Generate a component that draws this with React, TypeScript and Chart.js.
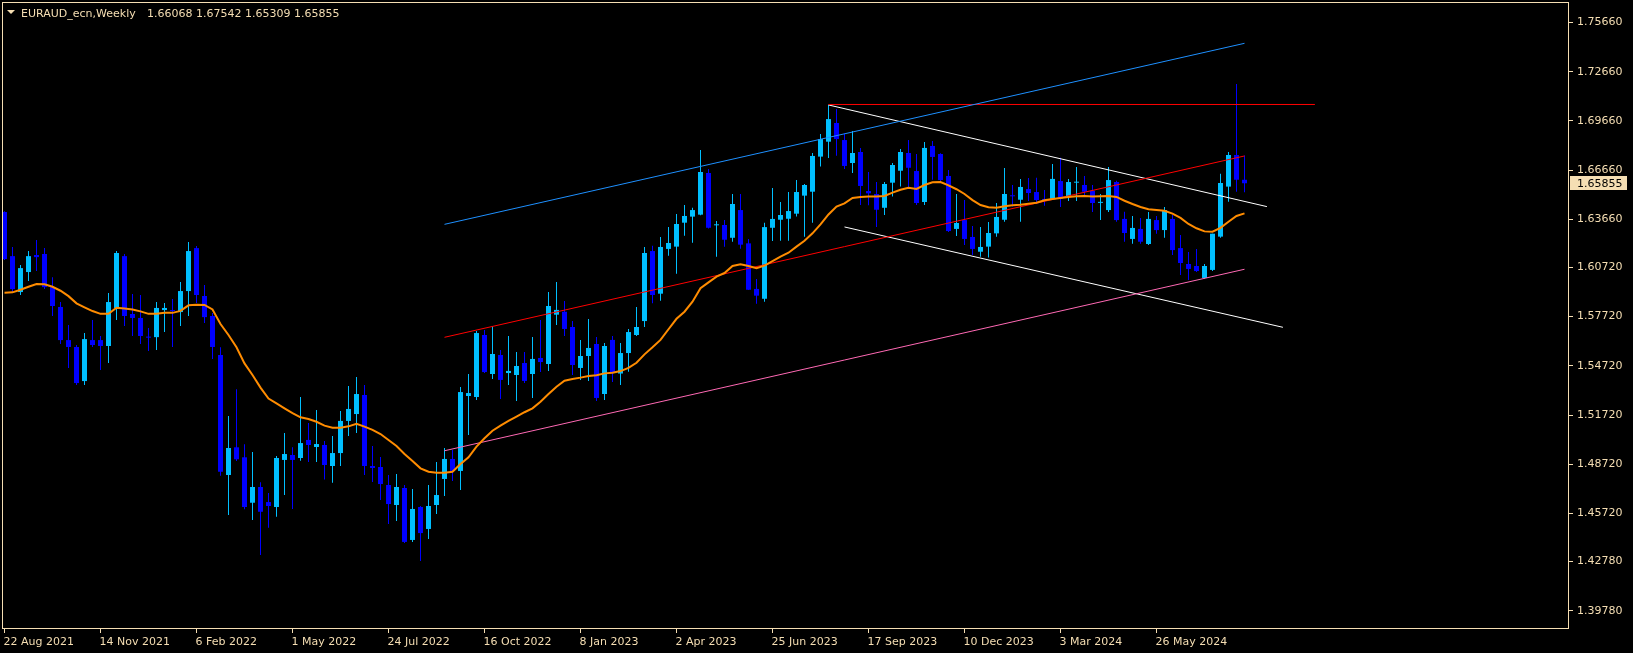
import React, { useEffect, useRef } from 'react';
import { Chart, registerables } from 'chart.js';

Chart.register(...registerables);

// ---------- text ----------
const symbolTitle = 'EURAUD_ecn,Weekly';
const lastBarText = '1.66068 1.67542 1.65309 1.65855';
const lastPrice = 1.65855;

// ---------- axis ticks ----------
const dateLabels = ['22 Aug 2021', '14 Nov 2021', '6 Feb 2022', '1 May 2022', '24 Jul 2022', '16 Oct 2022', '8 Jan 2023', '2 Apr 2023', '25 Jun 2023', '17 Sep 2023', '10 Dec 2023', '3 Mar 2024', '26 May 2024'];
const dateTickBars = [0, 12, 24, 36, 48, 60, 72, 84, 96, 108, 120, 132, 144];
const priceTicks = [1.7566, 1.7266, 1.6966, 1.6666, 1.6366, 1.6072, 1.5772, 1.5472, 1.5172, 1.4872, 1.4572, 1.4278, 1.3978];

// ---------- weekly candles (bar 0 = 22 Aug 2021) ----------
const opens = [
  1.6410, 1.6141, 1.5922, 1.6044, 1.6148, 1.6154, 1.5952, 1.5831, 1.5629, 1.5587,
  1.5379, 1.5629, 1.5629, 1.5593, 1.5825, 1.6141, 1.5788, 1.5764, 1.5647, 1.5647,
  1.5812, 1.5812, 1.5800, 1.5928, 1.6190, 1.5898, 1.5776, 1.5538, 1.4806, 1.4975,
  1.4914, 1.4637, 1.4733, 1.4641, 1.4611, 1.4898, 1.4928, 1.4910, 1.5020, 1.4977,
  1.4989, 1.4861, 1.4940, 1.5136, 1.5178, 1.5294, 1.4861, 1.4855, 1.4745, 1.4623,
  1.4727, 1.4410, 1.4611, 1.4477, 1.4623, 1.4782, 1.4904, 1.4831, 1.5288, 1.5282,
  1.5660, 1.5422, 1.5538, 1.5428, 1.5416, 1.5489, 1.5422, 1.5520, 1.5483, 1.5784,
  1.5802, 1.5709, 1.5459, 1.5532, 1.5605, 1.5300, 1.5630, 1.5425, 1.5550, 1.5660,
  1.5745, 1.6172, 1.5912, 1.6185, 1.6199, 1.6345, 1.6382, 1.6394, 1.6648, 1.6329,
  1.6331, 1.6253, 1.6422, 1.6219, 1.5941, 1.5881, 1.6314, 1.6363, 1.6369, 1.6400,
  1.6510, 1.6534, 1.6748, 1.6839, 1.6953, 1.6849, 1.6709, 1.6776, 1.6538, 1.6520,
  1.6436, 1.6589, 1.6662, 1.6770, 1.6660, 1.6471, 1.6813, 1.6764, 1.6630, 1.6307,
  1.6361, 1.6258, 1.6168, 1.6199, 1.6280, 1.6363, 1.6510, 1.6485, 1.6550, 1.6532,
  1.6490, 1.6490, 1.6599, 1.6503, 1.6589, 1.6575, 1.6540, 1.6466, 1.6422, 1.6593,
  1.6368, 1.6246, 1.6307, 1.6215, 1.6361, 1.6300, 1.6368, 1.6190, 1.6093, 1.6081,
  1.6008, 1.6057, 1.6260, 1.6565, 1.6758, 1.66068,
];
const highs = [
  1.6415, 1.6196, 1.6087, 1.6172, 1.6239, 1.6190, 1.6013, 1.5861, 1.5721, 1.5599,
  1.5672, 1.5751, 1.5654, 1.5916, 1.6172, 1.6154, 1.5910, 1.5904, 1.5702, 1.5861,
  1.5855, 1.5879, 1.5983, 1.6227, 1.6203, 1.5965, 1.5794, 1.5585, 1.5166, 1.5329,
  1.4993, 1.4946, 1.4762, 1.4696, 1.4922, 1.5062, 1.4975, 1.5282, 1.5123, 1.5203,
  1.5014, 1.5044, 1.5197, 1.5349, 1.5404, 1.5355, 1.4983, 1.4916, 1.4806, 1.4812,
  1.4745, 1.4721, 1.4617, 1.4745, 1.4886, 1.4971, 1.4959, 1.5343, 1.5422, 1.5684,
  1.5691, 1.5715, 1.5569, 1.5654, 1.5556, 1.5556, 1.5648, 1.5752, 1.5922, 1.5983,
  1.5867, 1.5745, 1.5630, 1.5758, 1.5648, 1.5611, 1.5654, 1.5611, 1.5697, 1.5831,
  1.6197, 1.6205, 1.6258, 1.6319, 1.6398, 1.6453, 1.6436, 1.6788, 1.6672, 1.6355,
  1.6361, 1.6520, 1.6520, 1.6246, 1.6002, 1.6345, 1.6557, 1.6471, 1.6532, 1.6605,
  1.6581, 1.6770, 1.6886, 1.7063, 1.7038, 1.6890, 1.6904, 1.6801, 1.6654, 1.6593,
  1.6593, 1.6709, 1.6794, 1.6849, 1.6764, 1.6837, 1.6843, 1.6768, 1.6666, 1.6520,
  1.6483, 1.6325, 1.6318, 1.6349, 1.6465, 1.6679, 1.6575, 1.6612, 1.6618, 1.6619,
  1.6544, 1.6703, 1.6741, 1.6612, 1.6685, 1.6630, 1.6575, 1.6520, 1.6685, 1.6601,
  1.6412, 1.6386, 1.6374, 1.6410, 1.6386, 1.6441, 1.6392, 1.6270, 1.6166, 1.6185,
  1.6093, 1.6278, 1.6644, 1.6776, 1.7191, 1.67542,
];
const lows = [
  1.6118, 1.5922, 1.5904, 1.5989, 1.6050, 1.5940, 1.5776, 1.5605, 1.5459, 1.5355,
  1.5355, 1.5587, 1.5446, 1.5489, 1.5751, 1.5715, 1.5654, 1.5605, 1.5562, 1.5568,
  1.5678, 1.5587, 1.5715, 1.5776, 1.5855, 1.5733, 1.5513, 1.4802, 1.4562, 1.4892,
  1.4597, 1.4532, 1.4318, 1.4485, 1.4552, 1.4684, 1.4599, 1.4893, 1.4886, 1.4886,
  1.4778, 1.4759, 1.4861, 1.5044, 1.5062, 1.4806, 1.4764, 1.4654, 1.4507, 1.4526,
  1.4391, 1.4398, 1.4282, 1.4416, 1.4568, 1.4678, 1.4770, 1.4715, 1.5050, 1.5264,
  1.5428, 1.5392, 1.5270, 1.5355, 1.5258, 1.5367, 1.5276, 1.5434, 1.5441, 1.5721,
  1.5654, 1.5416, 1.5386, 1.5380, 1.5258, 1.5264, 1.5373, 1.5355, 1.5436, 1.5654,
  1.5709, 1.5853, 1.5869, 1.6144, 1.6034, 1.6266, 1.6223, 1.6390, 1.6310, 1.6138,
  1.6199, 1.6229, 1.6186, 1.5934, 1.5851, 1.5863, 1.6233, 1.6235, 1.6235, 1.6382,
  1.6260, 1.6345, 1.6687, 1.6740, 1.6754, 1.6672, 1.6648, 1.6453, 1.6451, 1.6318,
  1.6392, 1.6504, 1.6565, 1.6558, 1.6453, 1.6453, 1.6607, 1.6600, 1.6288, 1.6264,
  1.6209, 1.6148, 1.6138, 1.6132, 1.6260, 1.6351, 1.6443, 1.6351, 1.6477, 1.6459,
  1.6449, 1.6483, 1.6441, 1.6477, 1.6477, 1.6503, 1.6410, 1.6361, 1.6410, 1.6351,
  1.6229, 1.6217, 1.6217, 1.6209, 1.6278, 1.6253, 1.6148, 1.6026, 1.5996, 1.6044,
  1.6003, 1.6050, 1.6253, 1.6473, 1.6534, 1.65309,
];
const closes = [
  1.6123, 1.5940, 1.6068, 1.6141, 1.6135, 1.5952, 1.5837, 1.5629, 1.5587, 1.5367,
  1.5635, 1.5599, 1.5593, 1.5861, 1.6160, 1.5776, 1.5764, 1.5654, 1.5644, 1.5825,
  1.5825, 1.5806, 1.5928, 1.6172, 1.5904, 1.5769, 1.5587, 1.4826, 1.4971, 1.4902,
  1.4611, 1.4733, 1.4582, 1.4617, 1.4910, 1.4934, 1.4898, 1.5001, 1.4989, 1.4995,
  1.4867, 1.4940, 1.5136, 1.5209, 1.5300, 1.4861, 1.4849, 1.4751, 1.4629, 1.4733,
  1.4398, 1.4599, 1.4452, 1.4617, 1.4684, 1.4904, 1.4831, 1.5312, 1.5306, 1.5672,
  1.5434, 1.5544, 1.5386, 1.5441, 1.5471, 1.5380, 1.5514, 1.5495, 1.5837, 1.5813,
  1.5697, 1.5477, 1.5532, 1.5581, 1.5276, 1.5593, 1.5434, 1.5550, 1.5678, 1.5709,
  1.6160, 1.5904, 1.6197, 1.6221, 1.6337, 1.6386, 1.6422, 1.6654, 1.6314, 1.6333,
  1.6241, 1.6459, 1.6211, 1.5936, 1.5900, 1.6318, 1.6368, 1.6392, 1.6416, 1.6532,
  1.6575, 1.6752, 1.6855, 1.6977, 1.6855, 1.6691, 1.6770, 1.6569, 1.6524, 1.6424,
  1.6581, 1.6697, 1.6776, 1.6680, 1.6465, 1.6801, 1.6746, 1.6605, 1.6294, 1.6343,
  1.6246, 1.6185, 1.6197, 1.6282, 1.6380, 1.6520, 1.6506, 1.6563, 1.6526, 1.6483,
  1.6477, 1.6612, 1.6490, 1.6593, 1.6592, 1.6534, 1.6465, 1.6468, 1.6605, 1.6361,
  1.6282, 1.6313, 1.6229, 1.6368, 1.6300, 1.6422, 1.6178, 1.6099, 1.6063, 1.6050,
  1.6081, 1.6278, 1.6587, 1.6758, 1.6607, 1.65855,
];
// orange moving average
const maValues = [
  1.5918, 1.5920, 1.5936, 1.5954, 1.5971, 1.5969, 1.5954, 1.5930, 1.5897, 1.5853,
  1.5829, 1.5806, 1.5789, 1.5789, 1.5826, 1.5822, 1.5816, 1.5804, 1.5789, 1.5789,
  1.5795, 1.5795, 1.5807, 1.5841, 1.5844, 1.5843, 1.5816, 1.5727, 1.5660, 1.5585,
  1.5487, 1.5416, 1.5339, 1.5272, 1.5243, 1.5213, 1.5184, 1.5158, 1.5148, 1.5131,
  1.5107, 1.5095, 1.5095, 1.5103, 1.5119, 1.5101, 1.5081, 1.5056, 1.5020, 1.4983,
  1.4934, 1.4892, 1.4847, 1.4826, 1.4820, 1.4820, 1.4826, 1.4873, 1.4914, 1.4979,
  1.5030, 1.5076, 1.5107, 1.5136, 1.5162, 1.5189, 1.5213, 1.5253, 1.5300, 1.5345,
  1.5381, 1.5392, 1.5400, 1.5410, 1.5414, 1.5426, 1.5430, 1.5440, 1.5459, 1.5491,
  1.5542, 1.5585, 1.5630, 1.5695, 1.5759, 1.5802, 1.5863, 1.5945, 1.5981, 1.6016,
  1.6038, 1.6081, 1.6091, 1.6081, 1.6067, 1.6083, 1.6110, 1.6138, 1.6162, 1.6199,
  1.6235, 1.6280, 1.6335, 1.6395, 1.6443, 1.6463, 1.6496, 1.6502, 1.6504, 1.6504,
  1.6508, 1.6528, 1.6546, 1.6558, 1.6551, 1.6575, 1.6591, 1.6593, 1.6573, 1.6549,
  1.6520, 1.6483, 1.6453, 1.6439, 1.6436, 1.6445, 1.6451, 1.6455, 1.6461, 1.6467,
  1.6482, 1.6490, 1.6496, 1.6502, 1.6506, 1.6508, 1.6504, 1.6506, 1.6508, 1.6502,
  1.6479, 1.6459, 1.6441, 1.6427, 1.6422, 1.6418, 1.6400, 1.6374, 1.6337, 1.6311,
  1.6292, 1.6290, 1.6314, 1.6351, 1.6386, 1.6402,
];

// ---------- drawn objects (bar index, price) ----------
const channelBars = [55, 155];
const channelUpper = [1.6335, 1.7439];
const channelMiddle = [1.5646, 1.6752];
const channelLower = [1.4954, 1.6061];
const resistanceBars = [103, 163.8];
const resistanceLevel = [1.7066, 1.7066];
const wedgeUpperBars = [103, 157.8];
const wedgeUpper = [1.7063, 1.6443];
const wedgeLowerBars = [105, 159.8];
const wedgeLower = [1.6319, 1.5707];

// ---------- view ----------
const xMin = -0.3125;
const xMax = 195.5625;
const yMin = 1.38669;
const yMax = 1.7691;

const FG = '#F5DEB3';
const BULL = '#00BFFF';
const BEAR = '#0000FF';
const FONT = { family: 'DejaVu Sans', size: 11 };

const seg = (xs: number[], ys: number[]) => [
  { x: xs[0], y: ys[0] },
  { x: xs[1], y: ys[1] },
];

const decorPlugin = {
  id: 'mt4decor',
  beforeDraw(chart: any) {
    const { ctx, width, height } = chart;
    ctx.save();
    ctx.fillStyle = '#000000';
    ctx.fillRect(0, 0, width, height);
    ctx.restore();
  },
  afterDraw(chart: any) {
    const { ctx, chartArea: a } = chart;
    ctx.save();
    ctx.strokeStyle = FG;
    ctx.lineWidth = 1;
    ctx.strokeRect(a.left + 0.5, a.top + 0.5, a.right - a.left - 1, a.bottom - a.top - 1);

    ctx.fillStyle = FG;
    ctx.beginPath();
    ctx.moveTo(7, 10);
    ctx.lineTo(15, 10);
    ctx.lineTo(11, 14);
    ctx.closePath();
    ctx.fill();
    ctx.font = '11px "DejaVu Sans"';
    ctx.textAlign = 'left';
    ctx.textBaseline = 'alphabetic';
    ctx.fillText(symbolTitle, 21, 17);
    ctx.fillText(lastBarText, 147, 17);

    const y = chart.scales.y.getPixelForValue(lastPrice);
    ctx.fillStyle = FG;
    ctx.fillRect(a.right + 1, Math.round(y) - 7, 57, 14);
    ctx.fillStyle = '#000000';
    ctx.textBaseline = 'middle';
    ctx.fillText(lastPrice.toFixed(5), a.right + 8, y + 0.5);
    ctx.restore();
  },
};

export default function App() {
  const ref = useRef<HTMLCanvasElement>(null);

  useEffect(() => {
    const canvas = ref.current;
    if (!canvas) return;
    const idx = closes.map((_, i) => i);
    const colors = idx.map((i) => (closes[i] >= opens[i] ? BULL : BEAR));
    const lineDs = (label: string, data: any[], color: string, width: number) => ({
      type: 'line' as const,
      label,
      data,
      borderColor: color,
      borderWidth: width,
      pointRadius: 0,
      tension: 0,
      fill: false,
      order: 0,
    });

    const chart = new Chart(canvas, {
      type: 'bar',
      data: {
        datasets: [
          lineDs('MA', idx.map((i) => ({ x: i, y: maValues[i] })), '#FF8C00', 2),
          lineDs('Channel upper', seg(channelBars, channelUpper), '#1E90FF', 1),
          lineDs('Channel middle', seg(channelBars, channelMiddle), '#FF0000', 1),
          lineDs('Channel lower', seg(channelBars, channelLower), '#FF69B4', 1),
          lineDs('Resistance', seg(resistanceBars, resistanceLevel), '#FF0000', 1),
          lineDs('Wedge upper', seg(wedgeUpperBars, wedgeUpper), '#FFFFFF', 1),
          lineDs('Wedge lower', seg(wedgeLowerBars, wedgeLower), '#FFFFFF', 1),
          {
            type: 'bar',
            label: 'Bodies',
            data: idx.map((i) => ({ x: i, y: [opens[i], closes[i]] })),
            backgroundColor: colors,
            borderWidth: 0,
            barThickness: 5,
            minBarLength: 1,
            grouped: false,
            inflateAmount: 0,
            order: 1,
          } as any,
          {
            type: 'bar',
            label: 'Wicks',
            data: idx.map((i) => ({ x: i, y: [lows[i], highs[i]] })),
            backgroundColor: colors,
            borderWidth: 0,
            barThickness: 1,
            minBarLength: 1,
            grouped: false,
            inflateAmount: 0,
            order: 2,
          } as any,
        ],
      },
      options: {
        responsive: false,
        animation: false,
        devicePixelRatio: 1,
        layout: { padding: { left: 2, top: 2, right: 0, bottom: 0 } },
        plugins: { legend: { display: false }, tooltip: { enabled: false } },
        scales: {
          x: {
            type: 'linear',
            min: xMin,
            max: xMax,
            offset: false,
            afterFit: (s: any) => {
              s.height = 24;
              s.paddingLeft = 0;
              s.paddingRight = 0;
            },
            afterBuildTicks: (s: any) => {
              s.ticks = dateTickBars.map((v) => ({ value: v }));
            },
            grid: {
              display: true,
              offset: false,
              drawOnChartArea: false,
              drawTicks: true,
              tickLength: 4,
              color: FG,
              lineWidth: 1,
            },
            border: { display: false },
            ticks: {
              autoSkip: false,
              maxRotation: 0,
              minRotation: 0,
              align: 'start',
              padding: 3,
              labelOffset: -1,
              color: FG,
              font: FONT,
              callback: (v: any) => {
                const k = dateTickBars.indexOf(Number(v));
                return k >= 0 ? dateLabels[k] : '';
              },
            },
          },
          y: {
            type: 'linear',
            position: 'right',
            min: yMin,
            max: yMax,
            afterFit: (s: any) => {
              s.width = 64;
              s.paddingTop = 0;
              s.paddingBottom = 0;
            },
            afterBuildTicks: (s: any) => {
              s.ticks = priceTicks.map((v) => ({ value: v }));
            },
            grid: {
              display: true,
              drawOnChartArea: false,
              drawTicks: true,
              tickLength: 4,
              color: FG,
              lineWidth: 1,
            },
            border: { display: false },
            ticks: {
              autoSkip: false,
              padding: 4,
              color: FG,
              font: FONT,
              callback: (v: any) => Number(v).toFixed(5),
            },
          },
        },
      } as any,
      plugins: [decorPlugin],
    });
    return () => chart.destroy();
  }, []);

  return (
    <div style={{ position: 'fixed', left: 0, top: 0, width: 1633, height: 653, background: '#000' }}>
      <canvas ref={ref} width={1633} height={653} style={{ display: 'block', width: 1633, height: 653 }} />
    </div>
  );
}
